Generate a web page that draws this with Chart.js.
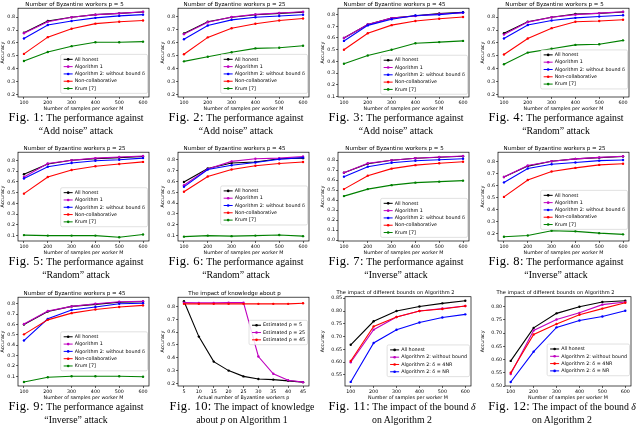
<!DOCTYPE html>
<html>
<head>
<meta charset="utf-8">
<script src="https://cdn.jsdelivr.net/npm/chart.js@4.4.1/dist/chart.umd.min.js"></script>
<style>
body { margin: 0; width: 640px; height: 426px; background: #fff; position: relative; overflow: hidden; }
canvas { position: absolute; }
.cap { position: absolute; width: 160px; text-align: center; white-space: nowrap; font-family: "Liberation Serif", serif; font-size: 9.8px; line-height: 13px; color: #000; }
.cap b { font-weight: normal; font-size: 12.5px; letter-spacing: 0.4px; }
</style>
</head>
<body>
<script>
// x values
const samplesM = [100, 200, 300, 400, 500, 600]
const actualP = [5, 10, 15, 20, 25, 30, 35, 40, 45]

// Fig 1-9: All honest, Algorithm 1, Algorithm 2, Non-collaborative, Krum
const fig1Honest = [0.68, 0.77, 0.80, 0.82, 0.83, 0.84]
const fig1Alg1 = [0.675, 0.765, 0.80, 0.82, 0.83, 0.842]
const fig1Alg2 = [0.635, 0.74, 0.77, 0.795, 0.81, 0.82]
const fig1NonCollab = [0.515, 0.645, 0.71, 0.75, 0.765, 0.775]
const fig1Krum = [0.46, 0.53, 0.575, 0.605, 0.605, 0.61]

const fig2Honest = [0.67, 0.76, 0.795, 0.815, 0.825, 0.835]
const fig2Alg1 = [0.665, 0.757, 0.797, 0.817, 0.828, 0.838]
const fig2Alg2 = [0.625, 0.732, 0.775, 0.795, 0.805, 0.815]
const fig2NonCollab = [0.51, 0.64, 0.71, 0.745, 0.77, 0.785]
const fig2Krum = [0.455, 0.49, 0.525, 0.555, 0.56, 0.575]

const fig3Honest = [0.60, 0.715, 0.77, 0.79, 0.81, 0.82]
const fig3Alg1 = [0.60, 0.715, 0.77, 0.788, 0.805, 0.815]
const fig3Alg2 = [0.575, 0.708, 0.76, 0.792, 0.80, 0.818]
const fig3NonCollab = [0.50, 0.64, 0.71, 0.745, 0.765, 0.78]
const fig3Krum = [0.38, 0.45, 0.50, 0.555, 0.565, 0.575]

const fig4Honest = [0.675, 0.765, 0.80, 0.825, 0.83, 0.84]
const fig4Alg1 = [0.665, 0.762, 0.80, 0.82, 0.832, 0.842]
const fig4Alg2 = [0.635, 0.74, 0.775, 0.795, 0.805, 0.815]
const fig4NonCollab = [0.51, 0.635, 0.715, 0.765, 0.77, 0.78]
const fig4Krum = [0.435, 0.525, 0.555, 0.585, 0.59, 0.62]

const fig5Honest = [0.67, 0.765, 0.80, 0.815, 0.825, 0.835]
const fig5Alg1 = [0.645, 0.77, 0.80, 0.82, 0.83, 0.84]
const fig5Alg2 = [0.63, 0.74, 0.775, 0.795, 0.805, 0.82]
const fig5NonCollab = [0.49, 0.645, 0.71, 0.745, 0.765, 0.785]
const fig5Krum = [0.105, 0.10, 0.10, 0.10, 0.085, 0.11]

const fig6Honest = [0.595, 0.72, 0.77, 0.78, 0.81, 0.815]
const fig6Alg1 = [0.565, 0.715, 0.785, 0.81, 0.815, 0.83]
const fig6Alg2 = [0.55, 0.71, 0.75, 0.775, 0.805, 0.82]
const fig6NonCollab = [0.505, 0.645, 0.71, 0.745, 0.765, 0.78]
const fig6Krum = [0.09, 0.10, 0.095, 0.10, 0.105, 0.095]

const fig7Honest = [0.675, 0.765, 0.80, 0.82, 0.83, 0.84]
const fig7Alg1 = [0.675, 0.77, 0.80, 0.82, 0.832, 0.842]
const fig7Alg2 = [0.635, 0.735, 0.775, 0.795, 0.805, 0.815]
const fig7NonCollab = [0.51, 0.645, 0.715, 0.75, 0.77, 0.785]
const fig7Krum = [0.44, 0.51, 0.55, 0.575, 0.585, 0.595]

const fig8Honest = [0.67, 0.76, 0.80, 0.82, 0.83, 0.84]
const fig8Alg1 = [0.67, 0.765, 0.80, 0.82, 0.832, 0.842]
const fig8Alg2 = [0.625, 0.74, 0.775, 0.79, 0.805, 0.81]
const fig8NonCollab = [0.505, 0.645, 0.715, 0.745, 0.77, 0.78]
const fig8Krum = [0.175, 0.185, 0.225, 0.22, 0.205, 0.195]

const fig9Honest = [0.60, 0.725, 0.775, 0.795, 0.815, 0.82]
const fig9Alg1 = [0.605, 0.73, 0.775, 0.80, 0.82, 0.825]
const fig9Alg2 = [0.445, 0.655, 0.74, 0.77, 0.80, 0.805]
const fig9NonCollab = [0.505, 0.645, 0.71, 0.745, 0.77, 0.785]
const fig9Krum = [0.045, 0.09, 0.10, 0.10, 0.10, 0.095]

// Fig 10: estimated p = 5, 25, 45
const fig10Est5 = [0.84, 0.565, 0.37, 0.30, 0.255, 0.235, 0.23, 0.22, 0.21]
const fig10Est25 = [0.83, 0.828, 0.828, 0.83, 0.83, 0.41, 0.275, 0.225, 0.21]
const fig10Est45 = [0.82, 0.82, 0.82, 0.82, 0.82, 0.82, 0.82, 0.82, 0.825]

// Fig 11-12: All honest, without bound, delta = 4NR, delta = NR
const fig11Honest = [0.668, 0.76, 0.80, 0.818, 0.83, 0.84]
const fig11NoBound = [0.60, 0.727, 0.777, 0.80, 0.81, 0.82]
const fig11Bound4NR = [0.605, 0.74, 0.777, 0.80, 0.808, 0.82]
const fig11BoundNR = [0.523, 0.675, 0.727, 0.755, 0.775, 0.787]

const fig12Honest = [0.595, 0.72, 0.775, 0.80, 0.818, 0.823]
const fig12NoBound = [0.545, 0.71, 0.752, 0.777, 0.808, 0.818]
const fig12Bound4NR = [0.55, 0.695, 0.735, 0.77, 0.793, 0.815]
const fig12BoundNR = [0.515, 0.63, 0.722, 0.748, 0.763, 0.785]

const attackLabels = ['Add noise', 'Add noise', 'Add noise', 'Random', 'Random', 'Random', 'Inverse', 'Inverse', 'Inverse']
const byzantineP = [5, 25, 45, 5, 25, 45, 5, 25, 45]
const mainLabels = ['All honest', 'Algorithm 1', 'Algorithm 2: without bound δ', 'Non-collaborative', 'Krum [7]']
const knowledgeLabels = ['Estimated p = 5', 'Estimated p = 25', 'Estimated p = 45']
const boundLabels = ['All honest', 'Algorithm 2: without bound', 'Algorithm 2: δ = 4NR', 'Algorithm 2: δ = NR']

const mainColors = ['#000000', '#bf00bf', '#0000ff', '#ff0000', '#008000']
const knowledgeColors = ['#000000', '#bf00bf', '#ff0000']
const boundColors = ['#000000', '#bf00bf', '#ff0000', '#0000ff']

const rowTop = [0, 144, 289]
const FONT = 'DejaVu Sans'

let panels = [
  { series: [fig1Honest, fig1Alg1, fig1Alg2, fig1NonCollab, fig1Krum], yMin: 0.18, yMax: 0.87, legendTop: 0.52 },
  { series: [fig2Honest, fig2Alg1, fig2Alg2, fig2NonCollab, fig2Krum], yMin: 0.18, yMax: 0.865, legendTop: 0.52 },
  { series: [fig3Honest, fig3Alg1, fig3Alg2, fig3NonCollab, fig3Krum], yMin: 0.095, yMax: 0.855, legendTop: 0.53 },
  { series: [fig4Honest, fig4Alg1, fig4Alg2, fig4NonCollab, fig4Krum], yMin: 0.18, yMax: 0.87, legendTop: 0.47 },
  { series: [fig5Honest, fig5Alg1, fig5Alg2, fig5NonCollab, fig5Krum], yMin: 0.05, yMax: 0.875, legendTop: 0.40 },
  { series: [fig6Honest, fig6Alg1, fig6Alg2, fig6NonCollab, fig6Krum], yMin: 0.05, yMax: 0.87, legendTop: 0.38 },
  { series: [fig7Honest, fig7Alg1, fig7Alg2, fig7NonCollab, fig7Krum], yMin: -0.01, yMax: 0.88, legendTop: 0.52 },
  { series: [fig8Honest, fig8Alg1, fig8Alg2, fig8NonCollab, fig8Krum], yMin: 0.14, yMax: 0.875, legendTop: 0.43 },
  { series: [fig9Honest, fig9Alg1, fig9Alg2, fig9NonCollab, fig9Krum], yMin: 0.006, yMax: 0.864, legendTop: 0.39 }
]
panels.forEach((p, i) => {
  p.xs = samplesM
  p.labels = mainLabels
  p.colors = mainColors
  p.title = 'Number of Byzantine workers p = ' + byzantineP[i]
  p.titleSize = 5.5
  p.xTitle = 'Number of samples per worker M'
  p.line1 = 'The performance against'
  p.line2 = '“' + attackLabels[i] + '” attack'
})
panels.push({
  series: [fig10Est5, fig10Est25, fig10Est45], xs: actualP, labels: knowledgeLabels, colors: knowledgeColors,
  yMin: 0.18, yMax: 0.872, legendTop: 0.26, title: 'The impact of knowledge about p', titleSize: 5.5,
  xTitle: 'Actual number of Byzantine workers p', line1: 'The impact of knowledge', line2: 'about <i>p</i> on Algorithm 1'
})
panels.push({
  series: [fig11Honest, fig11NoBound, fig11Bound4NR, fig11BoundNR], xs: samplesM, labels: boundLabels, colors: boundColors,
  yMin: 0.507, yMax: 0.856, step: 0.05, legendTop: 0.54, title: 'The impact of different bounds on Algorithm 2', titleSize: 5.1,
  xTitle: 'Number of samples per worker M', line1: 'The impact of the bound <i>δ</i>', line2: 'on Algorithm 2'
})
panels.push({
  series: [fig12Honest, fig12NoBound, fig12Bound4NR, fig12BoundNR], xs: samplesM, labels: boundLabels, colors: boundColors,
  yMin: 0.50, yMax: 0.838, step: 0.05, legendTop: 0.53, title: 'The impact of different bounds on Algorithm 2', titleSize: 5.1,
  xTitle: 'Number of samples per worker M', line1: 'The impact of the bound <i>δ</i>', line2: 'on Algorithm 2'
})

// black box around the plot area
const frameBox = {
  id: 'frameBox',
  afterDraw(chart) {
    let a = chart.chartArea, ctx = chart.ctx
    ctx.save()
    ctx.strokeStyle = '#000'
    ctx.lineWidth = 0.7
    ctx.strokeRect(a.left, a.top, a.right - a.left, a.bottom - a.top)
    ctx.restore()
  }
}

// matplotlib style legend drawn inside the axes
const innerLegend = {
  id: 'innerLegend',
  afterDatasetsDraw(chart, args, opts) {
    let ctx = chart.ctx, a = chart.chartArea
    let sets = chart.data.datasets
    ctx.save()
    ctx.font = '4.8px "' + FONT + '"'
    let textW = Math.max(...sets.map(d => ctx.measureText(d.label).width))
    let rowH = 7.3
    let w = 14 + textW + 2.5
    let h = sets.length * rowH + 2.5
    let x0 = a.right - 1.5 - w
    let y0 = a.top + opts.top * (a.bottom - a.top)
    ctx.beginPath()
    ctx.roundRect(x0, y0, w, h, 1.5)
    ctx.fillStyle = 'rgba(255,255,255,0.85)'
    ctx.fill()
    ctx.strokeStyle = '#cccccc'
    ctx.lineWidth = 0.6
    ctx.stroke()
    sets.forEach((d, i) => {
      let y = y0 + 1.3 + rowH * (i + 0.5)
      ctx.strokeStyle = d.borderColor
      ctx.lineWidth = 1
      ctx.beginPath(); ctx.moveTo(x0 + 3, y); ctx.lineTo(x0 + 12, y); ctx.stroke()
      ctx.fillStyle = d.borderColor
      ctx.beginPath(); ctx.arc(x0 + 7.5, y, 1.3, 0, Math.PI * 2); ctx.fill()
      ctx.fillStyle = '#000'
      ctx.textBaseline = 'middle'
      ctx.fillText(d.label, x0 + 14, y)
    })
    ctx.restore()
  }
}

function drawPanel(p, i) {
  let col = i % 4, row = Math.floor(i / 4)
  let wideTicks = !!p.step
  let canvas = document.createElement('canvas')
  canvas.width = 158
  canvas.height = 112
  canvas.style.left = (col * 160) + 'px'
  canvas.style.top = rowTop[row] + 'px'
  document.body.appendChild(canvas)

  let xMin = p.xs[0] - (p.xs[p.xs.length - 1] - p.xs[0]) * 0.05
  let xMax = p.xs[p.xs.length - 1] + (p.xs[p.xs.length - 1] - p.xs[0]) * 0.05
  let tickFont = { family: FONT, size: 4.8 }

  new Chart(canvas, {
    type: 'line',
    data: {
      datasets: p.series.map((s, k) => ({
        label: p.labels[k],
        data: p.xs.map((x, j) => ({ x: x, y: s[j] })),
        borderColor: p.colors[k],
        backgroundColor: p.colors[k],
        borderWidth: 1.1,
        pointRadius: 1.2,
        pointBorderWidth: 0,
        order: p.series.length - k
      }))
    },
    options: {
      responsive: false,
      animation: false,
      layout: { padding: { left: 0, right: wideTicks ? 7 : 9, top: 0, bottom: 0 } },
      plugins: {
        legend: { display: false },
        tooltip: { enabled: false },
        title: { display: true, text: p.title, color: '#000', font: { family: FONT, size: p.titleSize, weight: 'normal' }, padding: { top: 0.8, bottom: 0.8 } },
        innerLegend: { top: p.legendTop }
      },
      scales: {
        x: {
          type: 'linear', min: xMin, max: xMax,
          ticks: { stepSize: p.xs[1] - p.xs[0], includeBounds: false, autoSkip: false, maxRotation: 0, color: '#000', font: tickFont, padding: 0.5 },
          grid: { drawOnChartArea: false, drawTicks: true, tickLength: 2, color: '#000', lineWidth: 0.6 },
          border: { display: false },
          title: { display: true, text: p.xTitle, color: '#000', font: tickFont, padding: 0 },
          afterFit: s => { s.height = 15 }
        },
        y: {
          min: p.yMin, max: p.yMax,
          ticks: { stepSize: p.step || 0.1, includeBounds: false, autoSkip: false, color: '#000', font: tickFont, padding: 1,
            callback: v => v.toFixed(wideTicks ? 2 : 1) },
          grid: { drawOnChartArea: false, drawTicks: true, tickLength: 2, color: '#000', lineWidth: 0.6 },
          border: { display: false },
          title: { display: true, text: 'Accuracy', color: '#000', font: tickFont, padding: 0 },
          afterFit: s => { s.width = wideTicks ? 25 : 18 }
        }
      }
    },
    plugins: [frameBox, innerLegend]
  })

  // caption below the chart
  let cap = document.createElement('div')
  cap.className = 'cap'
  let center = row == 2 && col > 0 ? 82 : 76
  cap.style.left = (col * 160 + center - 80) + 'px'
  cap.style.top = (rowTop[row] + 110.5) + 'px'
  cap.innerHTML = '<b>Fig. ' + (i + 1) + ':</b> ' + p.line1 + '<br>' + p.line2
  document.body.appendChild(cap)
}

panels.forEach(drawPanel)
</script>
</body>
</html>
